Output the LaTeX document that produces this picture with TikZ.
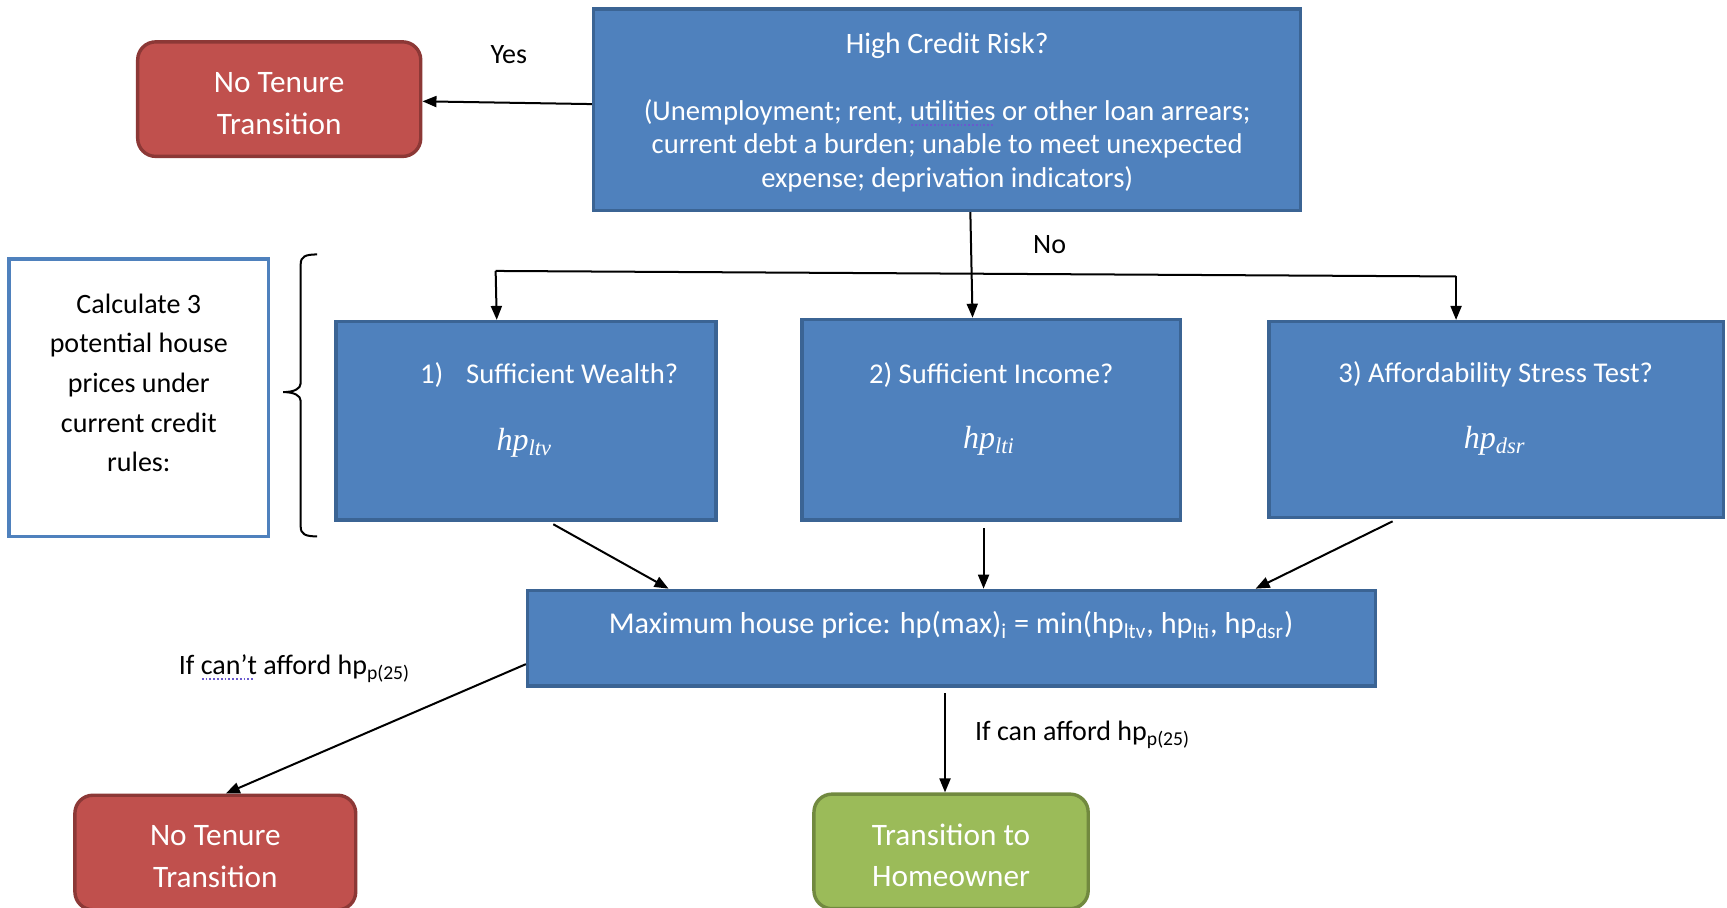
\documentclass[tikz,border=0pt]{standalone}
\usepackage{fontspec}
\setmainfont{Carlito}
\newfontfamily\mathserif{Liberation Serif}
\usetikzlibrary{arrows.meta,calc}
\newdimen\px \px=0.55pt
\definecolor{bfill}{HTML}{4F81BD}
\definecolor{bdraw}{HTML}{3B6494}
\definecolor{rfill}{HTML}{C0504D}
\definecolor{rdraw}{HTML}{8C3836}
\definecolor{gfill}{HTML}{9BBB59}
\definecolor{gdraw}{HTML}{71893F}
\definecolor{proof}{HTML}{6A5ACD}
\newcommand\hpm[1]{{\mathserif\itshape\fontsize{16}{18}\selectfont hp\textsubscript{#1}}}
\newcommand\dotul[1]{\setbox0\hbox{#1}\rlap{\color{proof}\raisebox{-2.6pt}{\hbox to \wd0{\leaders\hbox to 1.9pt{\hss\rule{0.9pt}{0.75pt}\hss}\hfill}}}#1}
\begin{document}
\begin{tikzpicture}[x=0.55pt,y=-0.55pt,
  bluebox/.style={draw=bdraw,fill=bfill,line width=1.7pt,inner sep=0pt},
  roundbox/.style={line width=1.7pt,rounded corners=9pt,text=white,align=center,
    font=\fontsize{15.6}{20.9}\selectfont,inner sep=0pt},
  redbox/.style={roundbox,draw=rdraw,fill=rfill},
  greenbox/.style={roundbox,draw=gdraw,fill=gfill},
  whitebox/.style={draw=bfill,fill=white,line width=1.7pt,inner sep=0pt},
  boxtext/.style={text=white,font=\fontsize{14.3}{16.8}\selectfont,inner sep=0pt,align=center},
  lbl/.style={text=black,font=\fontsize{14}{16}\selectfont,inner sep=0pt},
  conn/.style={line width=1pt,-{Triangle[length=7pt,width=5.5pt]}},
  bus/.style={line width=1pt}
]
\useasboundingbox (0,0) rectangle (1568,824);
\clip (0,0) rectangle (1568,824);

% boxes
\node[bluebox,minimum width=642\px,minimum height=183\px] (risk) at (860,99.5) {};
\node[boxtext] (risktext) at (860,102)
  {{\fontsize{14.8}{16.8}\selectfont High Credit Risk?}\\[16.8pt]
   (Unemployment; rent, \dotul{utilities} or other loan arrears;\\
   current debt a burden; unable to meet unexpected\\
   expense; deprivation indicators)};
\node[redbox,minimum width=257\px,minimum height=104\px] (nt1) at (253.5,90) {};
\node[roundbox] (nt1text) at (253.5,94) {No Tenure\\Transition};
\node[whitebox,minimum width=236\px,minimum height=252\px] (calc) at (126,361) {};
\node[lbl,align=center,font=\fontsize{14}{19.8}\selectfont] (calctext) at (126,347.5)
  {Calculate 3\\potential house\\prices under\\current credit\\rules:};

\node[bluebox,minimum width=345\px,minimum height=180\px] (b1) at (477.5,382) {};
\node[bluebox,minimum width=344\px,minimum height=182\px] (b2) at (900,381) {};
\node[bluebox,minimum width=413\px,minimum height=178\px] (b3) at (1358.5,381) {};
\node[boxtext,anchor=west] (t1) at (381,340.5) {1)\hspace{0.8em}Sufficient Wealth?};
\node[boxtext] (m1) at (476,402) {\hpm{ltv}};
\node[boxtext] (t2) at (900,340.5) {2) Sufficient Income?};
\node[boxtext] (m2) at (898,400) {\hpm{lti}};
\node[boxtext] (t3) at (1358,339.5) {3) Affordability Stress Test?};
\node[boxtext] (m3) at (1357,400) {\hpm{dsr}};

\node[bluebox,minimum width=770\px,minimum height=87\px] (max) at (864,579.5) {};
\node[boxtext,font=\fontsize{15.1}{17}\selectfont] (maxtext) at (863.5,567.5)
  {Maximum house price: hp(max)\textsubscript{i} = min(hp\textsubscript{ltv}, hp\textsubscript{lti}, hp\textsubscript{dsr})};

\node[redbox,minimum width=255\px,minimum height=104\px] (nt2) at (195.5,774) {};
\node[roundbox] (nt2text) at (195.5,777.5) {No Tenure\\Transition};
\node[greenbox,minimum width=249\px,minimum height=104\px] (home) at (863.5,773) {};
\node[roundbox] (hometext) at (863.5,776.5) {Transition to\\Homeowner};

% brace
\draw[line width=1pt] (288,231) .. controls (277,231) and (273,233) .. (273,240)
  -- (273,348) .. controls (273,353) and (267,356) .. (257,356)
  .. controls (267,356) and (273,359) .. (273,364)
  -- (273,478) .. controls (273,485) and (277,487) .. (288,487);

% labels
\node[lbl] (yes) at (462,49.5) {Yes};
\node[lbl] (no) at (953,222) {No};
\node[lbl,anchor=west] (cant) at (162,607)
  {If \dotul{can’t} afford hp\textsubscript{p(25)}};
\node[lbl,anchor=west] (can) at (885,667) {If can afford hp\textsubscript{p(25)}};

% connectors
\coordinate (busL) at (450,246);
\coordinate (busR) at (1322,251);
\draw[conn] ([yshift=5\px]risk.west) -- ([yshift=-2\px]nt1.east);
\draw[conn] ([xshift=21\px]risk.south) -- ([xshift=-17\px]b2.north);
\draw[bus] (busL) -- (busR);
\draw[conn] (busL) -- ([xshift=-26.5\px]b1.north);
\draw[conn] (busR) -- ([xshift=-36.5\px]b3.north);
\draw[conn,shorten <=5\px] ([xshift=20.5\px]b1.south) -- ([xshift=-257\px]max.north);
\draw[conn,shorten <=6\px] ([xshift=-7\px]b2.south) -- ([xshift=29\px]max.north);
\draw[conn,shorten <=4\px] ([xshift=-90.5\px]b3.south) -- ([xshift=276\px]max.north);
\draw[conn] ([yshift=-23.5\px]max.west) -- ([xshift=9.5\px]nt2.north);
\draw[conn,shorten <=5\px] ([xshift=-6\px]max.south) -- ([xshift=-5.5\px]home.north);
\end{tikzpicture}
\end{document}
